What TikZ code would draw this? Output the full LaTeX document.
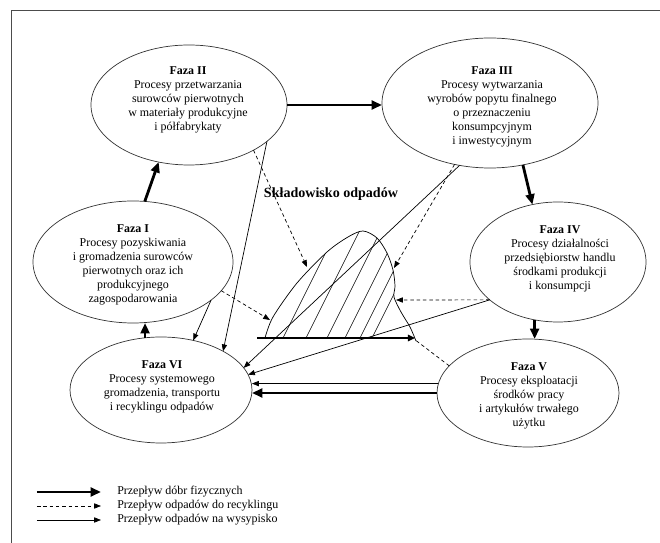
\documentclass[tikz,border=0pt]{standalone}
\usepackage{fontspec}
\setmainfont{Liberation Serif}
\usetikzlibrary{arrows.meta,shapes.geometric}

\begin{document}
\begin{tikzpicture}[x=0.25mm,y=-0.25mm,
    phase/.style={draw=black!80, ellipse, line width=0.5pt, inner sep=0pt, outer sep=0pt},
    phasetext/.style={align=center, inner sep=0pt, font=\fontsize{8.5}{10}\selectfont},
    legtext/.style={anchor=west, inner sep=0pt, font=\fontsize{8.5}{10}\selectfont},
    goods/.style={line width=2pt, -{Triangle[length=2.6mm,width=2.2mm]}},
    recycle/.style={line width=0.5pt, dash pattern=on 2.5pt off 2pt, -{Triangle[length=1.7mm,width=1.3mm]}},
    dump/.style={line width=0.5pt, -{Triangle[length=1.7mm,width=1.3mm]}}]
    \useasboundingbox (0,0) rectangle (660,543);
    \draw[black!70, line width=0.6pt] (660,10) -- (11,10) -- (11,543);

    % phases
    \node[phase, minimum width=50mm, minimum height=30.5mm] (f1) at (133,262) {};
    \node[phase, minimum width=49mm, minimum height=30mm] (f2) at (189,105) {};
    \node[phase, minimum width=54mm, minimum height=32.5mm] (f3) at (490,103) {};
    \node[phase, minimum width=44mm, minimum height=30mm] (f4) at (558,262) {};
    \node[phase, minimum width=45.5mm, minimum height=27mm] (f5) at (528,393) {};
    \node[phase, minimum width=45.5mm, minimum height=26.5mm] (f6) at (161,390) {};

    \node[phasetext] (t1) at (133,265) {\textbf{Faza I}\\Procesy pozyskiwania\\i gromadzenia surowców\\pierwotnych oraz ich\\produkcyjnego\\zagospodarowania};
    \node[phasetext] (t2) at (188,100) {\textbf{Faza II}\\Procesy przetwarzania\\surowców pierwotnych\\w materiały produkcyjne\\i półfabrykaty};
    \node[phasetext] (t3) at (492,107) {\textbf{Faza III}\\Procesy wytwarzania\\wyrobów popytu finalnego\\o przeznaczeniu\\konsumpcyjnym\\i inwestycyjnym};
    \node[phasetext] (t4) at (560,259) {\textbf{Faza IV}\\Procesy działalności\\przedsiębiorstw handlu\\środkami produkcji\\i konsumpcji};
    \node[phasetext] (t5) at (529,396) {\textbf{Faza V}\\Procesy eksploatacji\\środków pracy\\i artykułów trwałego\\użytku};
    \node[phasetext] (t6) at (162,387) {\textbf{Faza VI}\\Procesy systemowego\\gromadzenia, transportu\\i recyklingu odpadów};

    % landfill
    \node[font=\bfseries\fontsize{10}{12}\selectfont] (title) at (331,194) {Składowisko odpadów};
    \coordinate (b1) at (257,338);
    \coordinate (b2) at (415,338);
    \coordinate (lf1) at (270,320);
    \coordinate (lf2) at (307,267);
    \coordinate (lf3) at (394,268);
    \coordinate (lf4) at (396,300);
    \coordinate (lf5) at (414,339);
    \begin{scope}
        \clip plot[smooth] coordinates {(265,338) (273,317) (297,283) (327,252) (348,237) (363,231) (377,238) (387,253) (393,270) (395,286) (394,297) (401,312) (410,327) (416,341)} -- cycle;
        \foreach \x in {283,306,327,345,360,372}
            \draw[line width=0.4pt] (\x,338) -- ++(70,-140);
    \end{scope}
    \draw[line width=0.5pt] plot[smooth] coordinates {(265,338) (273,317) (297,283) (327,252) (348,237) (363,231) (377,238) (387,253) (393,270) (395,286) (394,297) (401,312) (410,327) (416,341)};
    \draw[line width=2pt, -{Triangle[length=1.8mm,width=1.6mm]}] (b1) -- (b2);

    % flows of goods
    \draw[goods] (f1.79) -- (f2.242);
    \draw[goods] (f2.east) -- (f2.east -| f3.west);
    \draw[goods] (f3.-62) -- (f4.114);
    \draw[goods] (f4.248) -- (f4.248 |- f5.north);
    \draw[goods] (f5.west) -- (f5.west -| f6.east);
    \draw[goods] (f6.107) -- (f6.107 |- f1.south);

    % waste to phase VI
    \draw[dump] (f2.-25) -- (f6.32);
    \draw[dump] (f1.-26) -- (f6.57);
    \draw[dump] (f3.244) -- (f6.15);
    \draw[dump] (f4.209) -- (f6.10);
    \draw[dump] (f5.174) -- (f5.174 -| f6.east);

    % waste to landfill
    \draw[recycle] (f2.-35) -- (lf2);
    \draw[recycle] (f1.-18) -- (lf1);
    \draw[recycle] (f3.240) -- (lf3);
    \draw[recycle] (f4.209) -- (lf4);
    \draw[recycle, -] (f5.161) -- (lf5);

    % legend
    \node[legtext] (lg1) at (117,492) {Przepływ dóbr fizycznych};
    \node[legtext] (lg2) at (117,506) {Przepływ odpadów do recyklingu};
    \node[legtext] (lg3) at (117,520) {Przepływ odpadów na wysypisko};
    \draw[goods] ([xshift=-20mm]lg1.west) -- ([xshift=-4mm]lg1.west);
    \draw[recycle] ([xshift=-20mm]lg2.west) -- ([xshift=-4mm]lg2.west);
    \draw[dump] ([xshift=-20mm]lg3.west) -- ([xshift=-4mm]lg3.west);
\end{tikzpicture}
\end{document}
